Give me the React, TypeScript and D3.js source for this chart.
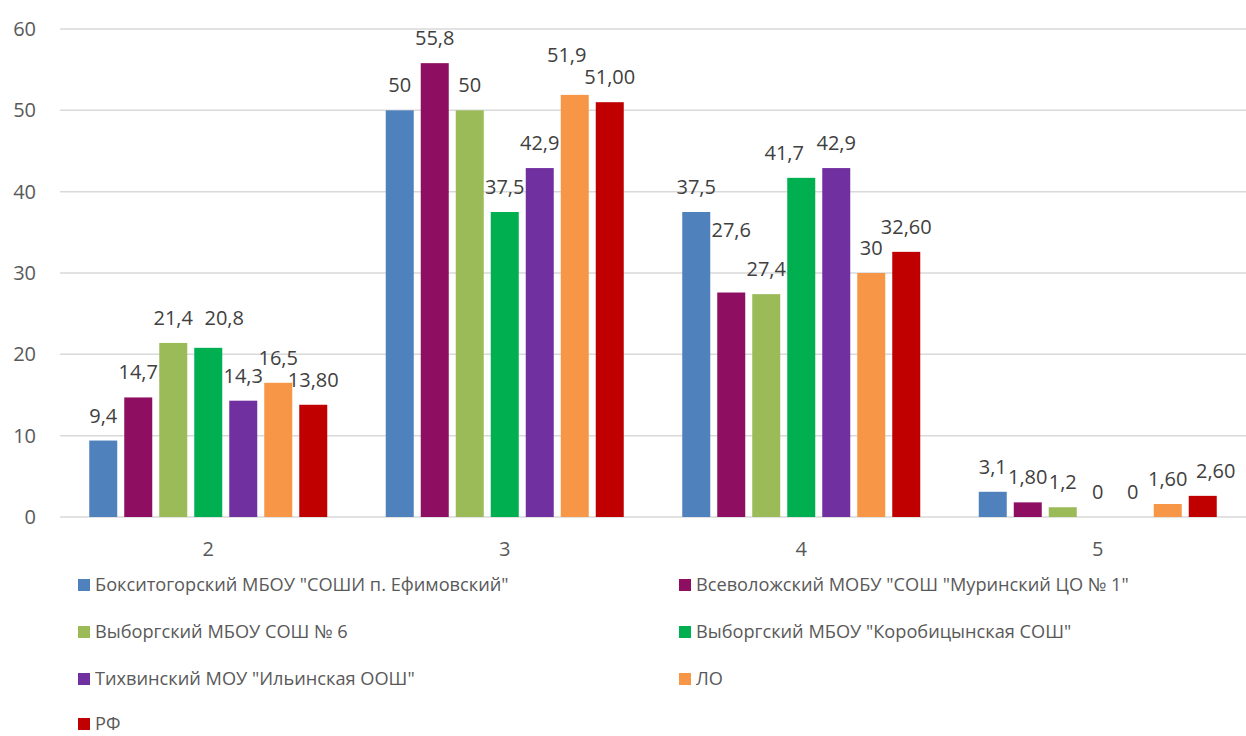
import React from "react";
import * as d3 from "d3";

const categories = ["2", "3", "4", "5"];
const seriesNames = [
  'Бокситогорский МБОУ "СОШИ п. Ефимовский"',
  'Всеволожский МОБУ "СОШ "Муринский ЦО № 1"',
  "Выборгский МБОУ СОШ № 6",
  'Выборгский МБОУ "Коробицынская СОШ"',
  'Тихвинский МОУ "Ильинская ООШ"',
  "ЛО",
  "РФ",
];
const seriesColors = ["#4F81BD", "#8E0E62", "#9BBB59", "#00B050", "#7030A0", "#F79646", "#C00000"];
const values: number[][] = [
  [9.4, 50, 37.5, 3.1],
  [14.7, 55.8, 27.6, 1.8],
  [21.4, 50, 27.4, 1.2],
  [20.8, 37.5, 41.7, 0],
  [14.3, 42.9, 42.9, 0],
  [16.5, 51.9, 30, 1.6],
  [13.8, 51.0, 32.6, 2.6],
];
const labels: string[][] = [
  ["9,4", "50", "37,5", "3,1"],
  ["14,7", "55,8", "27,6", "1,80"],
  ["21,4", "50", "27,4", "1,2"],
  ["20,8", "37,5", "41,7", "0"],
  ["14,3", "42,9", "42,9", "0"],
  ["16,5", "51,9", "30", "1,60"],
  ["13,80", "51,00", "32,60", "2,60"],
];
const yTicks = [0, 10, 20, 30, 40, 50, 60];

const W = 1246;
const H = 736;
const left = 60;
const right = 1246;
const top = 29;
const bottom = 517;
const font = "'Open Sans', 'Noto Sans', sans-serif";

// manual label nudges as in the original: "series-category" -> [dx, dy]
const labelNudges: Record<string, [number, number]> = {
  "1-2": [0, -38],
  "5-1": [-8, -15],
  "3-0": [16, -5],
  "3-2": [-17, 0],
  "6-3": [13, 0],
};

export default function App() {
  const y = d3.scaleLinear().domain([0, 60]).range([bottom, top]);
  const x0 = d3.scaleBand<string>().domain(categories).range([left, right]).padding(0);
  const bw = x0.bandwidth();
  const groupW = 245;
  const x1 = d3
    .scaleBand<number>()
    .domain(d3.range(seriesNames.length))
    .range([(bw - groupW) / 2, (bw + groupW) / 2])
    .paddingInner(0.2)
    .paddingOuter(0.1);

  const legendRows = [585, 632, 679, 724];
  const legendCols = [78, 679];

  return (
    <svg width={W} height={H} style={{ position: "absolute", left: 0, top: 0, background: "#fff" }}>
      {yTicks.map((t) => (
        <g key={t}>
          <line x1={left} x2={right} y1={y(t)} y2={y(t)} stroke="#D9D9D9" strokeWidth={1.5} />
          <text x={36} y={y(t)} dy="0.35em" textAnchor="end" fontFamily={font} fontSize={20} fill="#595959">
            {t}
          </text>
        </g>
      ))}
      {categories.map((c, ci) => (
        <g key={c} transform={`translate(${x0(c)},0)`}>
          {seriesNames.map((_, si) => {
            const v = values[si][ci];
            const bx = x1(si)!;
            const [dx, dy] = labelNudges[`${si}-${ci}`] ?? [0, 0];
            return (
              <g key={si}>
                {v > 0 && (
                  <rect x={bx} y={y(v)} width={x1.bandwidth()} height={y(0) - y(v)} fill={seriesColors[si]} />
                )}
                <text
                  x={bx + x1.bandwidth() / 2 + dx}
                  y={y(v) - 18 + dy}
                  textAnchor="middle"
                  fontFamily={font}
                  fontSize={20}
                  fill="#404040"
                >
                  {labels[si][ci]}
                </text>
              </g>
            );
          })}
          <text x={bw / 2} y={549} dy="0.35em" textAnchor="middle" fontFamily={font} fontSize={20} fill="#595959">
            {c}
          </text>
        </g>
      ))}
      {seriesNames.map((name, i) => {
        const lx = legendCols[i % 2];
        const ly = legendRows[Math.floor(i / 2)];
        return (
          <g key={name}>
            <rect x={lx} y={ly - 6} width={12} height={12} fill={seriesColors[i]} />
            <text x={lx + 17} y={ly} dy="0.35em" fontFamily={font} fontSize={18.2} fill="#595959">
              {name}
            </text>
          </g>
        );
      })}
    </svg>
  );
}
